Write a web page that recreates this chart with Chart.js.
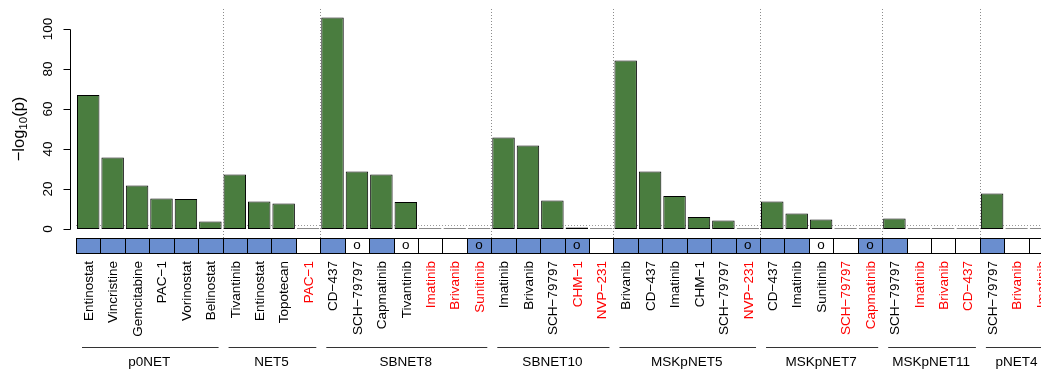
<!DOCTYPE html>
<html lang="en">
<head>
    <meta charset="UTF-8">
    <title>-log10(p) by model</title>
    <style>
        html, body { margin: 0; padding: 0; background: #fff; overflow: hidden; }
        #wrap { width: 1060px; height: 370px; }
    </style>
</head>
<body>
    <div id="wrap">
        <canvas id="myChart" width="1060" height="370"></canvas>
    </div>

    <script src="https://cdn.jsdelivr.net/npm/chart.js"></script>
    <script>
        // models and how many drugs each one has
        const groups = ['p0NET', 'NET5', 'SBNET8', 'SBNET10', 'MSKpNET5', 'MSKpNET7', 'MSKpNET11', 'pNET4'];
        const groupSizes = [6, 4, 7, 5, 6, 5, 4, 3];

        const drugs = [
            'Entinostat', 'Vincristine', 'Gemcitabine', 'PAC\u22121', 'Vorinostat', 'Belinostat',
            'Tivantinib', 'Entinostat', 'Topotecan', 'PAC\u22121',
            'CD\u2212437', 'SCH\u221279797', 'Capmatinib', 'Tivantinib', 'Imatinib', 'Brivanib', 'Sunitinib',
            'Imatinib', 'Brivanib', 'SCH\u221279797', 'CHM\u22121', 'NVP\u2212231',
            'Brivanib', 'CD\u2212437', 'Imatinib', 'CHM\u22121', 'SCH\u221279797', 'NVP\u2212231',
            'CD\u2212437', 'Imatinib', 'Sunitinib', 'SCH\u221279797', 'Capmatinib',
            'SCH\u221279797', 'Imatinib', 'Brivanib', 'CD\u2212437',
            'SCH\u221279797', 'Brivanib', 'Imatinib'
        ];

        // -log10(p)
        const values = [
            67, 35.8, 21.8, 15.2, 15, 3.8,
            27.3, 13.8, 12.8, 0,
            105.8, 28.7, 27.3, 13.5, 0, 0, 0,
            45.8, 41.8, 14.2, 0.8, 0,
            84.3, 28.7, 16.5, 6, 4.3, 0,
            13.8, 7.8, 4.7, 0, 0,
            5.2, 0, 0, 0,
            17.8, 0, 0
        ];

        // 1 = label in red
        const redLabel = [
            0, 0, 0, 0, 0, 0,
            0, 0, 0, 1,
            0, 0, 0, 0, 1, 1, 1,
            0, 0, 0, 1, 1,
            0, 0, 0, 0, 0, 1,
            0, 0, 0, 1, 1,
            0, 1, 1, 1,
            0, 1, 1
        ];

        // 1 = blue box, 0 = white box
        const boxBlue = [
            1, 1, 1, 1, 1, 1,
            1, 1, 1, 0,
            1, 0, 1, 0, 0, 0, 1,
            1, 1, 1, 1, 0,
            1, 1, 1, 1, 1, 1,
            1, 1, 0, 0, 1,
            1, 0, 0, 0,
            1, 0, 0
        ];

        // 1 = "o" mark in the box
        const boxMark = [
            0, 0, 0, 0, 0, 0,
            0, 0, 0, 0,
            0, 1, 0, 1, 0, 0, 1,
            0, 0, 0, 1, 0,
            0, 0, 0, 0, 0, 1,
            0, 0, 1, 0, 1,
            0, 0, 0, 0,
            0, 0, 0
        ];

        const yTicks = [0, 20, 40, 60, 80, 100];
        const cutoff = 2;

        const FONT = '"Liberation Sans", Arial, Helvetica, sans-serif';
        const GREEN = '#4a7d3f';
        const BLUE = '#6a8ecf';

        const extras = {
            id: 'extras',
            beforeDatasetsDraw(chart) {
                const { ctx, scales: { x, y } } = chart;
                ctx.save();
                ctx.strokeStyle = '#9a9a9a';
                ctx.lineWidth = 1;
                ctx.setLineDash([1, 2]);
                const yc = Math.round(y.getPixelForValue(cutoff)) + 0.5;
                ctx.beginPath();
                ctx.moveTo(x.left, yc);
                ctx.lineTo(chart.width, yc);
                ctx.stroke();
                ctx.restore();
            },
            afterDatasetsDraw(chart) {
                const { ctx, scales: { x, y } } = chart;
                const pitch = x.getPixelForValue(1) - x.getPixelForValue(0);
                const edge = i => x.getPixelForValue(i) - pitch / 2;
                ctx.save();

                // group separators
                ctx.strokeStyle = '#8c8c8c';
                ctx.lineWidth = 1;
                ctx.setLineDash([1, 2]);
                let k = 0;
                for (let g = 0; g < groupSizes.length - 1; g++) {
                    k += groupSizes[g];
                    const xs = Math.round(edge(k)) + 0.5;
                    ctx.beginPath();
                    ctx.moveTo(xs, 9);
                    ctx.lineTo(xs, 238);
                    ctx.stroke();
                }
                ctx.setLineDash([]);

                // y axis
                const ax = 70.5;
                ctx.strokeStyle = '#000';
                ctx.beginPath();
                ctx.moveTo(ax, Math.round(y.getPixelForValue(0)) + 0.5);
                ctx.lineTo(ax, Math.round(y.getPixelForValue(100)) + 0.5);
                yTicks.forEach(t => {
                    const ty = Math.round(y.getPixelForValue(t)) + 0.5;
                    ctx.moveTo(ax, ty);
                    ctx.lineTo(ax - 7, ty);
                });
                ctx.stroke();
                ctx.fillStyle = '#000';
                ctx.font = '13.5px ' + FONT;
                ctx.textAlign = 'center';
                ctx.textBaseline = 'middle';
                yTicks.forEach(t => {
                    ctx.save();
                    ctx.translate(48, y.getPixelForValue(t));
                    ctx.rotate(-Math.PI / 2);
                    ctx.fillText(String(t), 0, 0);
                    ctx.restore();
                });

                // y title: -log10(p)
                const big = '16.5px ' + FONT, small = '11.5px ' + FONT;
                ctx.font = big;
                const w1 = ctx.measureText('\u2212log').width;
                const w3 = ctx.measureText('(p)').width;
                ctx.font = small;
                const w2 = ctx.measureText('10').width;
                const total = w1 + w2 + w3;
                ctx.save();
                ctx.translate(24, (y.getPixelForValue(0) + y.getPixelForValue(100)) / 2);
                ctx.rotate(-Math.PI / 2);
                ctx.textAlign = 'left';
                ctx.textBaseline = 'alphabetic';
                let px = -total / 2;
                ctx.font = big;
                ctx.fillText('\u2212log', px, 0);
                px += w1;
                ctx.font = small;
                ctx.fillText('10', px, 3);
                px += w2;
                ctx.font = big;
                ctx.fillText('(p)', px, 0);
                ctx.restore();

                // status boxes
                for (let i = 0; i < drugs.length; i++) {
                    const bx = Math.round(edge(i)) + 0.5;
                    const bx2 = Math.round(edge(i + 1)) + 0.5;
                    ctx.fillStyle = boxBlue[i] ? BLUE : '#fff';
                    ctx.fillRect(bx, 238.5, bx2 - bx, 15);
                    ctx.strokeStyle = '#000';
                    ctx.strokeRect(bx, 238.5, bx2 - bx, 15);
                    if (boxMark[i]) {
                        ctx.fillStyle = '#000';
                        ctx.font = '13.5px ' + FONT;
                        ctx.textAlign = 'center';
                        ctx.textBaseline = 'middle';
                        ctx.fillText('o', x.getPixelForValue(i), 245);
                    }
                }

                // drug labels
                ctx.font = '13.5px ' + FONT;
                ctx.textAlign = 'right';
                ctx.textBaseline = 'middle';
                for (let i = 0; i < drugs.length; i++) {
                    ctx.save();
                    ctx.translate(x.getPixelForValue(i) + 1, 261);
                    ctx.rotate(-Math.PI / 2);
                    ctx.fillStyle = redLabel[i] ? '#ff0000' : '#000';
                    ctx.fillText(drugs[i], 0, 0);
                    ctx.restore();
                }

                // group lines and names
                k = 0;
                ctx.textAlign = 'center';
                ctx.fillStyle = '#000';
                ctx.strokeStyle = '#333';
                for (let g = 0; g < groups.length; g++) {
                    const x0 = edge(k) + 6;
                    const x1 = edge(k + groupSizes[g]) - 4;
                    ctx.beginPath();
                    ctx.moveTo(x0, 347.5);
                    ctx.lineTo(x1, 347.5);
                    ctx.stroke();
                    ctx.fillText(groups[g], (edge(k) + edge(k + groupSizes[g])) / 2, 362);
                    k += groupSizes[g];
                }

                ctx.restore();
            }
        };

        const ctx = document.getElementById('myChart').getContext('2d');
        const myChart = new Chart(ctx, {
            type: 'bar',
            data: {
                labels: drugs,
                datasets: [{
                    label: '-log10(p)',
                    data: values,
                    backgroundColor: c => c.raw === 0 ? '#8a8a8a' : GREEN,
                    borderColor: c => c.raw === 0 ? '#8a8a8a' : '#000',
                    borderWidth: 1,
                    borderSkipped: false,
                    minBarLength: 1,
                    categoryPercentage: 1,
                    barPercentage: 0.92
                }]
            },
            options: {
                responsive: false,
                animation: false,
                layout: {
                    padding: { left: 76, top: 9, bottom: 141, right: 6.8 }
                },
                plugins: {
                    legend: { display: false },
                    tooltip: { enabled: false }
                },
                scales: {
                    x: { display: false },
                    y: { display: false, min: 0, max: 110 }
                }
            },
            plugins: [extras]
        });
    </script>
</body>
</html>
